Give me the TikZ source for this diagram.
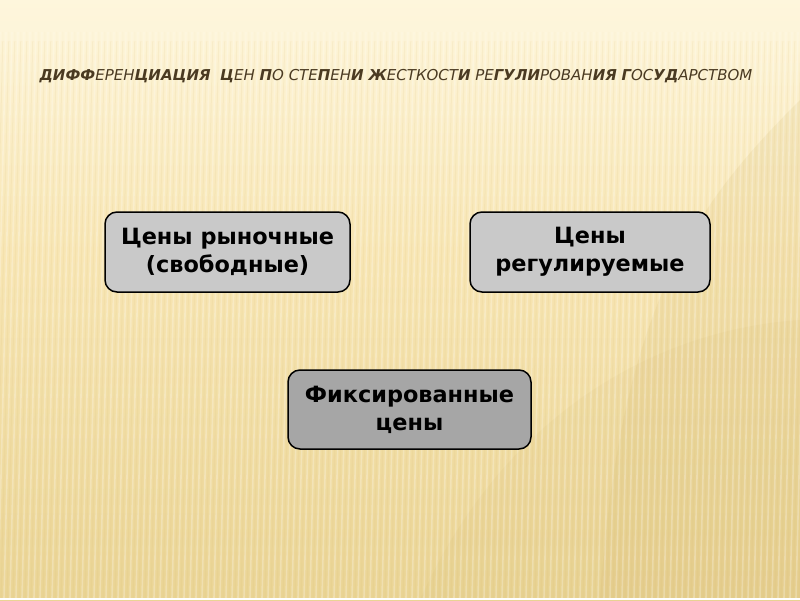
\documentclass[tikz,border=0pt]{standalone}
\usepackage{fontspec}
\setmainfont{DejaVu Sans}
\usetikzlibrary{shapes.misc}
\definecolor{bgtop}{HTML}{FEF6DC}
\definecolor{bgmid}{HTML}{F8E6B4}
\definecolor{bgbot}{HTML}{EAD494}
\definecolor{titlecol}{HTML}{4A3A22}
\definecolor{boxlight}{HTML}{C9C9C9}
\definecolor{boxdark}{HTML}{A6A6A6}
\definecolor{swoosh}{HTML}{D8BE78}
\newcommand{\B}[1]{{\bfseries #1}}
\tikzset{
  pricebox/.style={draw=black, line width=1.5pt, rounded corners=12pt,
    align=center, inner sep=0pt, font=\bfseries\fontsize{22.4}{28}\selectfont,
    text=black},
}
\begin{document}
\begin{tikzpicture}[x=1pt,y=1pt]
\useasboundingbox (0,0) rectangle (800,-600);
% background
\shade[top color=bgtop, bottom color=bgmid] (0,0) rectangle (800,-250);
\shade[top color=bgmid, bottom color=bgbot] (0,-250) rectangle (800,-600);
\fill[swoosh, opacity=0.18] (800,-100) .. controls (700,-200) and (620,-300) .. (600,-600) -- (800,-600) -- cycle;
\fill[swoosh, opacity=0.12] (420,-600) .. controls (500,-420) and (650,-330) .. (800,-320) -- (800,-600) -- cycle;
\foreach \x in {0,6,...,830} {
  \draw[white, opacity=0.25, line width=1.6pt] (\x,-32) -- (\x-14,-598);
  \draw[swoosh, opacity=0.12, line width=1pt] (\x+3,-32) -- (\x-11,-598);
}
\shade[top color=bgtop, bottom color=bgtop, opacity=0.6] (0,0) rectangle (800,-40);
\draw[white, line width=2pt] (0,-599) -- (800,-599);
% title
\node[text=titlecol, font=\itshape\fontsize{15}{18}\selectfont] (title) at (396,-76)
  {\B{ДИФФ}ЕРЕН\B{ЦИАЦИЯ}\ \ \B{Ц}ЕН \B{П}О СТЕ\B{П}ЕН\B{И} \B{Ж}ЕСТКОСТ\B{И} РЕ\B{ГУЛИ}РОВАН\B{ИЯ} \B{Г}ОС\B{УД}АРСТВОМ};
% boxes
\node[pricebox, fill=boxlight, minimum width=245pt, minimum height=80pt] (free) at (227.5,-252)
  {Цены рыночные\\(свободные)};
\node[pricebox, fill=boxlight, minimum width=240pt, minimum height=80pt] (reg) at (590,-252)
  {Цены\\регулируемые};
\node[pricebox, fill=boxdark, minimum width=243pt, minimum height=79pt] (fix) at (409.5,-409.5)
  {Фиксированные\\цены};
\end{tikzpicture}
\end{document}
